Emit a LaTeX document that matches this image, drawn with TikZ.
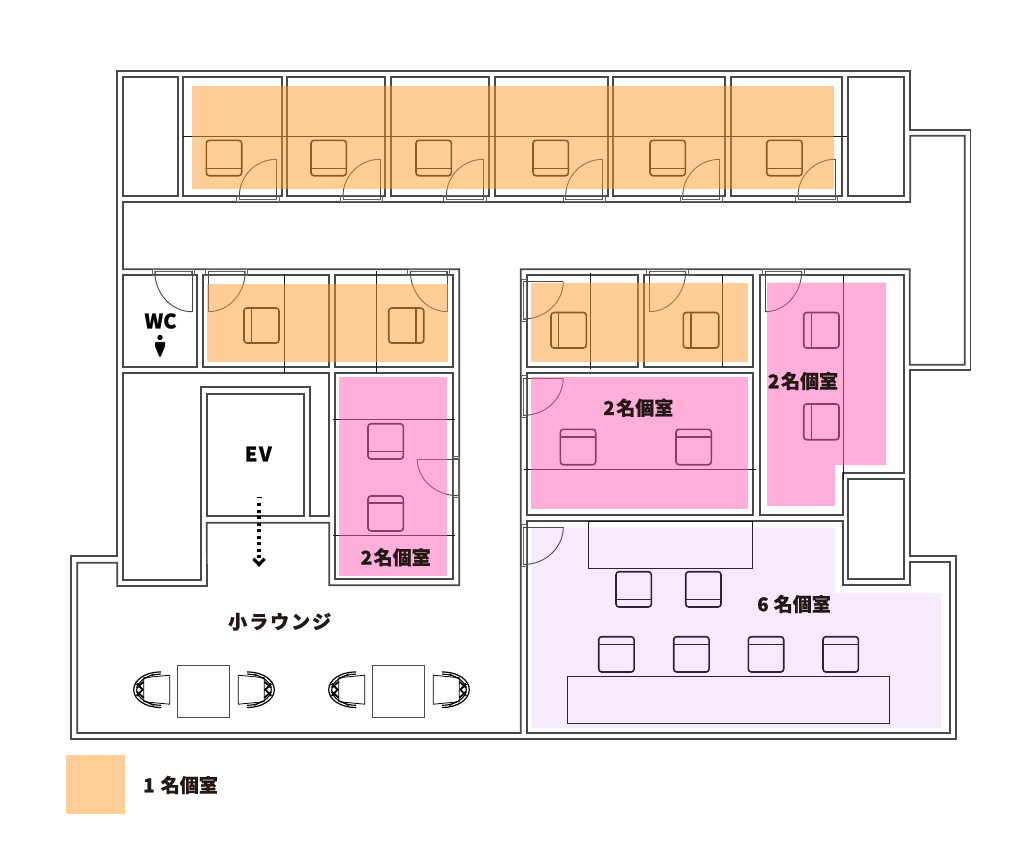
\documentclass[tikz,border=0pt]{standalone}
\usepackage{fontspec}
\usetikzlibrary{calc}
\newfontfamily\cjk[BoldFont={Noto Sans CJK JP Black},BoldFeatures={FakeBold=0.6}]{Noto Sans CJK JP}
\definecolor{wallc}{HTML}{484848}
\definecolor{ovoc}{RGB}{255,157,51}
\definecolor{ovpc}{RGB}{255,97,181}
\definecolor{ovlc}{RGB}{188,101,241}
\definecolor{legc}{RGB}{255,206,153}
\definecolor{inkc}{HTML}{231815}
\tikzset{
  wall/.style={draw=wallc,line width=1.7pt,line join=miter},
  thinln/.style={draw=black!90,line width=1pt},
  doorln/.style={draw=wallc,line width=0.9pt},
  framln/.style={draw=wallc!85,line width=0.9pt},
  seat/.style={draw=black!90,line width=1.6pt,rounded corners=3pt},
  seatln/.style={draw=black!90,line width=1.6pt},
  ovo/.style={fill=ovoc,fill opacity=0.5,draw=none},
  ovp/.style={fill=ovpc,fill opacity=0.5,draw=none},
  ovl/.style={fill=ovlc,fill opacity=0.13,draw=none},
  lab/.style={font=\cjk\bfseries\fontsize{19}{21}\selectfont,text=inkc,inner sep=0pt},
  labw/.style={font=\cjk\bfseries\fontsize{20}{22}\selectfont,text=black,inner sep=0pt},
}
% quarter arc from A to B around corner C
\newcommand\qarc[3]{\draw[doorln] (#1) .. controls ($(#1)!0.552!(#3)$) and ($(#2)!0.552!(#3)$) .. (#2);}
% chair: x0 y0 x1 y1 then seat line a1 b1 a2 b2
\newcommand\chr[8]{\draw[seat] (#1,#2) rectangle (#3,#4);\draw[seatln] (#5,#6) -- (#7,#8);}
\newcommand\topdoor[1]{%
  \draw[framln] (#1,195.7) rectangle (#1+42.3,201.7);
  \draw[framln] (#1+2.7,195.7) rectangle (#1+39.7,199.5);
  \draw[doorln] (#1+39.7,159.3) -- (#1+39.7,199);
  \qarc{#1+39.7,159.3}{#1+2.7,196}{#1+2.7,159.3}}
\newcommand\upframe[1]{%
  \draw[framln] (#1,269.3) rectangle (#1+41.6,275.3);
  \draw[framln] (#1+2.7,271) rectangle (#1+39.2,275.3);}
\newcommand\lfdoor[1]{% y of frame top
  \draw[framln] (521.7,#1) rectangle (526.7,#1+41.7);
  \draw[framln] (523.3,#1+2.3) rectangle (526.7,#1+39.7);
  \draw[doorln] (522.7,#1+2.3) -- (563.3,#1+2.3);
  \qarc{563.3,#1+2.3}{523.3,#1+39.7}{563.3,#1+39.7}}
% lounge chair, dir = 1 back on the left, -1 back on the right
\newcommand\lchair[3]{%
 \begin{scope}[shift={(#1,#2)},xscale=#3]
  \draw[draw=black,line width=0.8pt,fill=white,line join=round] (-26,-12) -- (0,-14.5) -- (0,14.5) -- (-26,12) -- cycle;
  \draw[black,line width=1.2pt,line cap=round] (-9,-17.8) .. controls (-24,-17.8) and (-36,-10) .. (-36,0) .. controls (-36,10) and (-24,17.8) .. (-9,17.8);
  \draw[black,line width=1.1pt,line cap=round] (-9,-15.6) .. controls (-22,-15.6) and (-33,-8) .. (-33,0) .. controls (-33,8) and (-22,15.6) .. (-9,15.6);
  \draw[black,line width=0.7pt] (-24,-11.5) -- (-16,-16) (-24,11.5) -- (-16,16);
  \draw[black,line width=1.8pt] (-26,-8) -- (-33,-2) (-26,8) -- (-33,2) (-33,-6) -- (-27,0) -- (-33,6);
 \end{scope}}
\begin{document}
\begin{tikzpicture}[x=1pt,y=-1pt]
\useasboundingbox (0,0) rectangle (1024,849);
\fill[white] (0,0) rectangle (1024,849);

% outer wall
\draw[wall] (117.3,70.7) -- (910.3,70.7) -- (910.3,129.7) -- (970.5,129.7) -- (970.5,370.3) -- (909.7,370.3) -- (909.7,556) -- (955.7,556) -- (955.7,739.3) -- (71.3,739.3) -- (71.3,556) -- (117.3,556) -- cycle;
% corridor and lounge space
\draw[wall] (123,202) -- (910.3,202) -- (910.3,135.7) -- (964.7,135.7) -- (964.7,364.7) -- (909.7,364.7) -- (909.7,269.3) -- (520.7,269.3) -- (520.7,733) -- (77.3,733) -- (77.3,562.7) -- (117.3,562.7) -- (117.3,586) -- (207,586) -- (206.7,522.7) -- (329.3,522.7) -- (329.3,585.3) -- (459.3,585.3) -- (459.3,269.3) -- (123,269.3) -- cycle;
% top row
\draw[wall] (123,76.7) rectangle (177.7,195.7);
\draw[wall] (183.3,76.7) rectangle (281.7,195.7);
\draw[wall] (287,76.7) rectangle (385,195.7);
\draw[wall] (390.7,76.7) rectangle (489,195.7);
\draw[wall] (495,76.7) rectangle (608,195.7);
\draw[wall] (613,76.7) rectangle (724.7,195.7);
\draw[wall] (730.7,76.7) rectangle (842.3,195.7);
\draw[wall] (848.3,76.7) rectangle (904.3,195.7);
% lower left block
\draw[wall] (123,275.3) rectangle (197,367);
\draw[wall] (203,275.3) rectangle (329.3,367);
\draw[wall] (335.3,275.3) rectangle (453.3,367);
\draw[wall] (123,373) -- (329.3,373) -- (329.3,516.3) -- (310.3,516.3) -- (310.3,387.3) -- (200.7,387.3) -- (200.7,580.3) -- (123,580.3) -- cycle;
\draw[wall] (206.7,393.7) rectangle (304.3,516.3);
\draw[wall] (335.3,373) rectangle (453.3,579.3);
% lower right block
\draw[wall] (526.7,275.3) rectangle (637.7,367);
\draw[wall] (643.7,275.3) rectangle (753.3,367);
\draw[wall] (526.7,373) rectangle (753.3,515.3);
\draw[wall] (759.7,275.3) -- (904,275.3) -- (904,473) -- (842.7,473) -- (842.7,515.3) -- (759.7,515.3) -- cycle;
\draw[wall] (848.3,479.3) rectangle (904,579.3);
\draw[wall] (526.7,521.3) -- (842.7,521.3) -- (842.7,584.7) -- (909.7,584.7) -- (909.7,562) -- (949.7,562) -- (949.7,733) -- (526.7,733) -- cycle;

% partitions
\draw[thinln] (183.3,136.3) -- (846.7,136.3);
\draw[thinln] (284.3,274) -- (284.3,373);
\draw[thinln] (376.3,271.3) -- (376.3,373);
\draw[thinln] (332.7,419.7) -- (455.3,419.7);
\draw[thinln] (332.7,535.7) -- (455.3,535.7);
\draw[thinln] (590,272.7) -- (590,369.3);
\draw[thinln] (722.3,275.3) -- (722.3,367);
\draw[thinln] (524.3,469) -- (756.3,469);
\draw[thinln] (843.3,275.3) -- (843.3,480);
\draw[thinln] (588.3,521.3) rectangle (752.3,568.3);
\draw[thinln] (567.7,676.7) rectangle (889.7,723.3);

% doors
\topdoor{236.7}\topdoor{340.3}\topdoor{443.7}\topdoor{563}\topdoor{680}\topdoor{795.3}
\upframe{152.7}\draw[doorln] (192,271) -- (192,311.7);\qarc{192,311.7}{154.7,271}{154.7,311.7}
\upframe{205.7}\draw[doorln] (208.3,271) -- (208.3,311.7);\qarc{208.3,311.7}{245.3,271}{245.3,311.7}
\upframe{407.7}\draw[doorln] (447.3,271) -- (447.3,311.7);\qarc{447.3,311.7}{410.3,271}{410.3,311.7}
\upframe{646.7}\draw[doorln] (649.3,271) -- (649.3,311.7);\qarc{649.3,311.7}{685.7,271}{685.7,311.7}
\upframe{762.7}\draw[doorln] (765,271) -- (765,311.7);\qarc{765,311.7}{801.7,271}{801.7,311.7}
\lfdoor{279.3}\lfdoor{375.7}\lfdoor{524.8}
\draw[framln] (453.3,456) rectangle (459.3,497.7);
\draw[framln] (453.3,458) rectangle (458,495.7);
\draw[doorln] (417.3,459) -- (458,459);
\qarc{417.3,459}{458,495.7}{417.3,495.7}

% seats
\foreach \cx in {206.3,311,416,533,650,766.7}
  {\chr{\cx}{140.3}{\cx+35.4}{175.7}{\cx}{168.3}{\cx+35.4}{168.3}}
\chr{244}{308}{279}{343}{251.3}{308}{251.3}{343}
\chr{388.7}{308}{423.7}{343}{416}{308}{416}{343}
\chr{368}{423.7}{403.3}{459}{368}{451.3}{403.3}{451.3}
\chr{368}{496}{403.3}{531}{368}{503}{403.3}{503}
\chr{551}{312.5}{586.3}{348}{558.3}{312.5}{558.3}{348}
\chr{683.3}{312.5}{718.7}{348}{691}{312.5}{691}{348}
\chr{803.7}{312.5}{839}{348}{811.3}{312.5}{811.3}{348}
\chr{803.7}{404}{839}{439.7}{811.3}{404}{811.3}{439.7}
\chr{560.3}{429.3}{595.7}{464.7}{560.3}{436.7}{595.7}{436.7}
\chr{676}{429.3}{711.3}{464.7}{676}{436.7}{711.3}{436.7}
\chr{616}{571.7}{651.3}{607}{616}{599.3}{651.3}{599.3}
\chr{685.7}{571.7}{721}{607}{685.7}{599.3}{721}{599.3}
\foreach \cx in {598.7,673.7,748.3,823}
  {\chr{\cx}{636.7}{\cx+35.4}{672}{\cx}{644.3}{\cx+35.4}{644.3}}

% lounge furniture
\draw[draw=black!70,line width=0.9pt] (177.3,665.7) rectangle (229.3,717.7);
\draw[draw=black!70,line width=0.9pt] (372.3,665.7) rectangle (424.3,717.7);
\lchair{169.7}{689.7}{1}
\lchair{238.3}{689.7}{-1}
\lchair{364.7}{689.7}{1}
\lchair{433.3}{689.7}{-1}

% colour overlays
\fill[ovo] (191.7,85.7) rectangle (834.3,189);
\fill[ovo] (207,284) rectangle (448,361.7);
\fill[ovo] (531.3,283.3) rectangle (748.3,361.7);
\fill[ovp] (338.7,377.3) rectangle (447.3,576);
\fill[ovp] (531.3,377.3) rectangle (748.3,508.7);
\fill[ovp] (767,282.7) -- (886,282.7) -- (886,465) -- (835,465) -- (835,506) -- (767,506) -- cycle;
\fill[ovl] (531.3,527.3) -- (835,527.3) -- (835,593.3) -- (941,593.3) -- (941,728) -- (531.3,728) -- cycle;
\fill[legc] (66,755.3) rectangle (125.3,814.3);

% EV arrow
\draw[black,line width=3.2pt,dash pattern=on 3.4pt off 3.1pt] (259,503) -- (259,560);
\draw[black,line width=1.2pt] (256.5,497.6) -- (261.5,497.6);
\draw[black,line width=3.2pt,miter limit=10] (253.4,558.8) -- (259,564.5) -- (264.6,558.8);

% person
\fill[black] (160,337.5) circle (2.7);
\fill[black,rounded corners=0.6pt] (155,342) -- (165,342) -- (165,346) -- (160.7,356.8) -- (159.3,356.8) -- (155,346) -- cycle;

% labels
\node[labw] (wc) at (160.5,321) {WC};
\node[labw] (ev) at (258.3,454) {E\kern1.5pt V};
\node[lab] (r1) at (395.7,557.3) {2\kern1.5pt 名個室};
\node[lab] (r2) at (638.3,407.7) {2\kern1.5pt 名個室};
\node[lab] (r3) at (803,381) {2\kern1.5pt 名個室};
\node[lab] (r4) at (794,604) {6\kern5pt 名個室};
\node[lab] (r5) at (279.7,621.7) {小\kern2pt ラ\kern2pt ウ\kern2pt ン\kern2pt ジ};
\node[lab] (r6) at (180.5,785) {1\kern6pt 名個室};
\end{tikzpicture}
\end{document}
